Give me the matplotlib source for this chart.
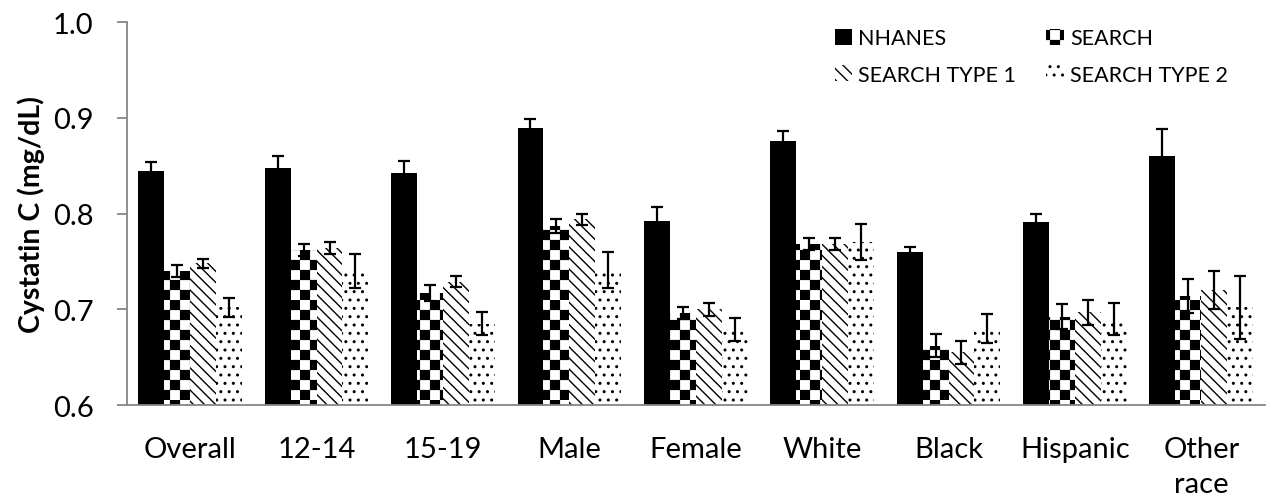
import matplotlib
matplotlib.use('Agg')
import matplotlib.pyplot as plt
import numpy as np
from matplotlib import hatch as mhatch
from matplotlib.path import Path

plt.rcParams['font.family'] = ['Lato', 'DejaVu Sans']
plt.rcParams['hatch.color'] = 'black'
plt.rcParams['hatch.linewidth'] = 1.0

categories = ['Overall', '12-14', '15-19', 'Male', 'Female', 'White', 'Black',
              'Hispanic', 'Other\nrace']
series_names = ['NHANES', 'SEARCH', 'SEARCH TYPE 1', 'SEARCH TYPE 2']

nhanes = [0.844, 0.848, 0.842, 0.889, 0.792, 0.876, 0.760, 0.791, 0.860]
nhanes_err = [0.010, 0.012, 0.013, 0.010, 0.015, 0.010, 0.005, 0.009, 0.028]
search = [0.740, 0.762, 0.717, 0.787, 0.696, 0.768, 0.662, 0.692, 0.714]
search_err = [0.006, 0.006, 0.008, 0.007, 0.006, 0.006, 0.012, 0.013, 0.018]
type1 = [0.748, 0.764, 0.729, 0.794, 0.700, 0.768, 0.655, 0.697, 0.720]
type1_err = [0.005, 0.006, 0.006, 0.006, 0.007, 0.006, 0.012, 0.013, 0.020]
type2 = [0.702, 0.740, 0.685, 0.741, 0.679, 0.770, 0.680, 0.690, 0.702]
type2_err = [0.010, 0.018, 0.012, 0.019, 0.012, 0.019, 0.015, 0.017, 0.033]


# checkerboard hatch, hooked in place of the 'O' pattern
class CheckerHatch(mhatch.HatchPatternBase):
    def __init__(self, hatch, density):
        self.cells = 10 if 'O' in hatch else 0
        self.num_vertices = (self.cells * self.cells // 2) * 5

    def set_vertices_and_codes(self, vertices, codes):
        n = self.cells
        step = 1.0 / n
        inset = 0.006
        k = 0
        for i in range(n):
            for j in range(n):
                if (i + j) % 2:
                    continue
                x0, y0 = i * step + inset, j * step + inset
                x1, y1 = x0 + step - 2 * inset, y0 + step - 2 * inset
                vertices[k:k + 5] = [(x0, y0), (x1, y0), (x1, y1), (x0, y1), (x0, y0)]
                codes[k:k + 5] = [Path.MOVETO, Path.LINETO, Path.LINETO,
                                  Path.LINETO, Path.CLOSEPOLY]
                k += 5


mhatch._hatch_types[mhatch._hatch_types.index(mhatch.LargeCircles)] = CheckerHatch

fig = plt.figure(figsize=(12.76, 5.02), dpi=100)
ax = fig.add_axes([0.0995, 0.1912, 0.8915, 0.7628])

values = [nhanes, search, type1, type2]
errors = [nhanes_err, search_err, type1_err, type2_err]
hatches = [None, 'O', '\\\\\\', '..']
colors = ['black', 'white', 'white', 'white']

index = np.arange(len(categories))
width = 0.205
bars = []
for i in range(4):
    b = ax.bar(index + (i - 1.5) * width, values[i], width, yerr=errors[i],
               color=colors[i], hatch=hatches[i], edgecolor='black', linewidth=0,
               label=series_names[i],
               error_kw=dict(ecolor='black', elinewidth=1.6, capsize=4.5, capthick=1.6))
    bars.append(b)

ax.set_xlim(-0.5, len(categories) - 0.5)
ax.set_ylim(0.6, 1.0)
ax.set_yticks([0.6, 0.7, 0.8, 0.9, 1.0])
ax.set_yticklabels(['0.6', '0.7', '0.8', '0.9', '1.0'])
ax.set_xticks(index)
ax.set_xticklabels(categories, linespacing=1.45)

for s in ['top', 'right']:
    ax.spines[s].set_visible(False)
for s in ['left', 'bottom']:
    ax.spines[s].set_color('#868686')
    ax.spines[s].set_linewidth(1.3)

ax.tick_params(axis='y', direction='out', length=7, width=1.3, color='#868686',
               labelsize=21, pad=17)
ax.tick_params(axis='x', length=0, labelsize=21, pad=22)
ax.set_ylabel('Cystatin C (mg/dL)', fontsize=20.5, fontweight='bold', labelpad=6)

order = [0, 2, 1, 3]
fig.legend([bars[i] for i in order], [series_names[i] for i in order],
           loc='upper left', bbox_to_anchor=(0.639, 0.98), ncol=2, frameon=False,
           fontsize=15.5, handlelength=0.8, handleheight=0.8, handletextpad=0.3,
           columnspacing=1.4, labelspacing=0.75)

fig.savefig('out.png', dpi=100)
